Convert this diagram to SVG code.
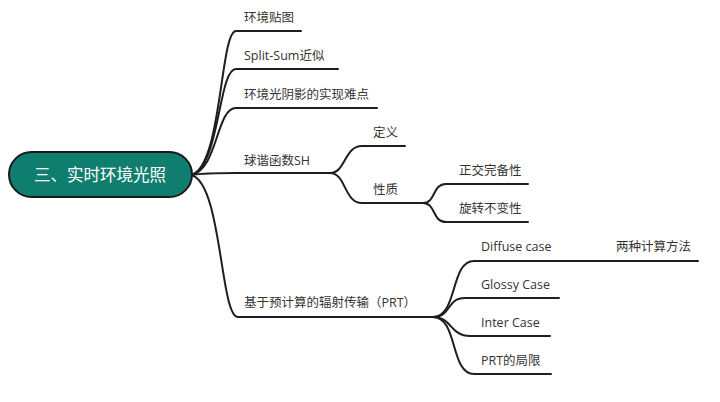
<svg xmlns="http://www.w3.org/2000/svg" width="720" height="402" viewBox="0 0 720 402">
<style>
.c{fill:none;stroke:#1e1e1e;stroke-width:2;stroke-linecap:round}
.t{font-family:"Open Sans","Noto Sans CJK SC",sans-serif;font-size:12.5px;fill:#333}
.r{font-family:"Noto Sans CJK SC",sans-serif;font-size:16.5px;fill:#fff}
</style>
<rect x="0" y="0" width="720" height="402" fill="#fff"/>
<g id="connectors">
<path class="c" d="M191,175 C222,168 220,31 236,31 L301,31"/>
<path class="c" d="M191,175 C220,168 218,69 236,69 L338,69"/>
<path class="c" d="M191,175 C218,170 216,108 236,108 L377,108"/>
<path class="c" d="M191,175 C205,173 215,173 236,173 L330,173"/>
<path class="c" d="M191,175 C222,182 220,317 238,317 L433,317"/>
<path class="c" d="M330,173 C346,173 344,146 362,146 L405,146"/>
<path class="c" d="M330,173 C346,173 344,203 362,203 L423,203"/>
<path class="c" d="M423,203 C436,203 432,184 446,184 L528,184"/>
<path class="c" d="M423,203 C436,203 432,222 446,222 L528,222"/>
<path class="c" d="M433,317 C458,317 450,261 474,261 L698,261"/>
<path class="c" d="M433,317 C452,317 446,298 465,298 L559,298"/>
<path class="c" d="M433,317 C452,317 450,336 470,336 L550,336"/>
<path class="c" d="M433,317 C458,317 450,374 474,374 L551,374"/>
</g>
<g id="root">
<rect x="9" y="152" width="183" height="45" rx="22.5" fill="#0f7e6f" stroke="#1a1a1a" stroke-width="2"/>
<text class="r" x="100" y="181" text-anchor="middle">三、实时环境光照</text>
</g>
<g id="n1"><text class="t" x="244" y="22">环境贴图</text></g>
<g id="n2"><text class="t" x="244" y="60">Split-Sum近似</text></g>
<g id="n3"><text class="t" x="244" y="99">环境光阴影的实现难点</text></g>
<g id="n4"><text class="t" x="244" y="165">球谐函数SH</text></g>
<g id="n4a"><text class="t" x="373" y="137">定义</text></g>
<g id="n4b"><text class="t" x="373" y="194">性质</text></g>
<g id="n4b1"><text class="t" x="459" y="175">正交完备性</text></g>
<g id="n4b2"><text class="t" x="459" y="213">旋转不变性</text></g>
<g id="n5"><text class="t" x="244" y="307">基于预计算的辐射传输（PRT）</text></g>
<g id="n5a"><text class="t" x="481" y="251">Diffuse case</text></g>
<g id="n5a1"><text class="t" x="616" y="251">两种计算方法</text></g>
<g id="n5b"><text class="t" x="481" y="289">Glossy Case</text></g>
<g id="n5c"><text class="t" x="481" y="327">Inter Case</text></g>
<g id="n5d"><text class="t" x="481" y="365">PRT的局限</text></g>
</svg>
